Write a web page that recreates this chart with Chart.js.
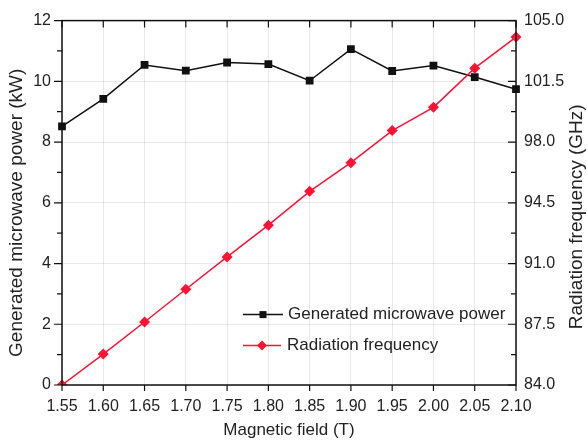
<!DOCTYPE html>
<html>
<head>
<meta charset="utf-8">
<script src="https://cdn.jsdelivr.net/npm/chart.js@4.4.1/dist/chart.umd.min.js"></script>
<style>
  html, body { margin: 0; padding: 0; background: #fff; }
  #wrap { position: relative; width: 587px; height: 442px; }
</style>
</head>
<body>
<div id="wrap"><canvas id="c" width="587" height="442"></canvas></div>
<script>
// ---- data ----
const xLabels = ['1.55','1.60','1.65','1.70','1.75','1.80','1.85','1.90','1.95','2.00','2.05','2.10'];
const powerKW = [8.52, 9.42, 10.54, 10.35, 10.62, 10.57, 10.02, 11.06, 10.34, 10.52, 10.14, 9.74];
const freqGHz = [84.0, 85.78, 87.63, 89.52, 91.38, 93.21, 95.16, 96.81, 98.66, 100.0, 102.26, 104.05];
const leftTicks = [0, 2, 4, 6, 8, 10, 12];
const leftMinor = [1, 3, 5, 7, 9, 11];
const rightTicks = [84.0, 87.5, 91.0, 94.5, 98.0, 101.5, 105.0];
const rightMinor = [85.75, 89.25, 92.75, 96.25, 99.75, 103.25];
const seriesNames = ['Generated microwave power', 'Radiation frequency'];
const leftTitle = 'Generated microwave power (kW)';
const rightTitle = 'Radiation frequency (GHz)';

const BLACK = '#111111';
const RED = '#ff1234';
const TXT = '#222222';
const FONT = '"Liberation Sans", Arial, sans-serif';
Chart.defaults.font.family = FONT;
Chart.defaults.color = TXT;

const framePlugin = {
  id: 'frameTicks',
  afterDatasetsDraw(chart) {
    const { ctx, chartArea: a, scales } = chart;
    const x = scales.x, y = scales.y, y1 = scales.y1;
    ctx.save();
    ctx.strokeStyle = BLACK;
    ctx.lineWidth = 1.2;
    ctx.beginPath();
    x.ticks.forEach((t, i) => {
      const px = x.getPixelForTick(i);
      ctx.moveTo(px, a.bottom); ctx.lineTo(px, a.bottom + 6);
      ctx.moveTo(px, a.top); ctx.lineTo(px, a.top + 7);
    });
    leftTicks.forEach(v => {
      const py = y.getPixelForValue(v);
      ctx.moveTo(a.left, py); ctx.lineTo(a.left - 8, py);
    });
    leftMinor.forEach(v => {
      const py = y.getPixelForValue(v);
      ctx.moveTo(a.left, py); ctx.lineTo(a.left - 5, py);
    });
    rightTicks.forEach(v => {
      const py = y1.getPixelForValue(v);
      ctx.moveTo(a.right, py); ctx.lineTo(a.right - 8, py);
    });
    rightMinor.forEach(v => {
      const py = y1.getPixelForValue(v);
      ctx.moveTo(a.right, py); ctx.lineTo(a.right - 5, py);
    });
    ctx.stroke();
    ctx.lineWidth = 1.5;
    ctx.strokeRect(a.left, a.top, a.right - a.left, a.bottom - a.top);
    ctx.restore();
  },
  afterDraw(chart) {
    const { ctx, chartArea: a } = chart;
    ctx.save();
    const lx = a.left + 181;
    const rows = [a.top + 294, a.top + 325];
    // item 1
    ctx.strokeStyle = BLACK; ctx.lineWidth = 1.5;
    ctx.beginPath(); ctx.moveTo(lx, rows[0]); ctx.lineTo(lx + 40, rows[0]); ctx.stroke();
    ctx.fillStyle = BLACK;
    ctx.fillRect(lx + 20 - 3.5, rows[0] - 3.5, 7, 7);
    // item 2
    ctx.strokeStyle = RED;
    ctx.beginPath(); ctx.moveTo(lx, rows[1]); ctx.lineTo(lx + 38, rows[1]); ctx.stroke();
    ctx.fillStyle = RED;
    ctx.beginPath();
    const cx = lx + 19, cy = rows[1], r = 5;
    ctx.moveTo(cx - r, cy); ctx.lineTo(cx, cy - r); ctx.lineTo(cx + r, cy); ctx.lineTo(cx, cy + r);
    ctx.closePath(); ctx.fill();
    ctx.fillStyle = TXT;
    ctx.font = '17px ' + FONT;
    ctx.textBaseline = 'middle';
    ctx.textAlign = 'left';
    ctx.fillText(seriesNames[0], lx + 45, rows[0]);
    ctx.fillText(seriesNames[1], lx + 44, rows[1]);
    // axis titles, reading bottom-to-top
    ctx.font = '19px ' + FONT;
    ctx.textAlign = 'center';
    ctx.textBaseline = 'middle';
    ctx.save();
    ctx.translate(a.left - 45, (a.top + a.bottom) / 2 + 10);
    ctx.rotate(-Math.PI / 2);
    ctx.fillText(leftTitle, 0, 0);
    ctx.restore();
    ctx.save();
    ctx.translate(a.right + 61, (a.top + a.bottom) / 2 + 14);
    ctx.rotate(-Math.PI / 2);
    ctx.fillText(rightTitle, 0, 0);
    ctx.restore();
    ctx.restore();
  }
};

new Chart(document.getElementById('c'), {
  type: 'line',
  data: {
    labels: xLabels,
    datasets: [
      {
        label: seriesNames[1],
        data: freqGHz,
        yAxisID: 'y1',
        borderColor: RED,
        backgroundColor: RED,
        borderWidth: 1.5,
        pointStyle: 'rectRot',
        pointRadius: 5.5,
        pointBorderWidth: 0,
        tension: 0,
        order: 0
      },
      {
        label: seriesNames[0],
        data: powerKW,
        yAxisID: 'y',
        borderColor: BLACK,
        backgroundColor: BLACK,
        borderWidth: 1.5,
        pointStyle: 'rect',
        pointRadius: 5.5,
        pointBorderWidth: 0,
        tension: 0,
        order: 1
      }
    ]
  },
  options: {
    responsive: false,
    animation: false,
    devicePixelRatio: 1,
    layout: { padding: { top: 15, left: 0, right: 0, bottom: 0 } },
    plugins: { legend: { display: false }, tooltip: { enabled: false } },
    scales: {
      x: {
        type: 'category',
        offset: false,
        afterFit: s => { s.height = 57; },
        grid: { color: 'rgba(0,0,0,0.09)', drawTicks: false, lineWidth: 1 },
        border: { display: false },
        ticks: { font: { size: 16 }, color: TXT, padding: 12, maxRotation: 0, autoSkip: false },
        title: { display: true, text: 'Magnetic field (T)', font: { size: 17, lineHeight: 1 }, color: TXT, padding: { top: 0, bottom: 3.5 } }
      },
      y: {
        type: 'linear',
        position: 'left',
        min: 0, max: 12,
        afterFit: s => { s.width = 62; },
        afterBuildTicks: s => { s.ticks = leftTicks.map(v => ({ value: v })); },
        grid: { color: 'rgba(0,0,0,0.09)', drawTicks: false, lineWidth: 1 },
        border: { display: false },
        ticks: { font: { size: 16 }, color: TXT, padding: 11, callback: v => String(v) },
        title: { display: false }
      },
      y1: {
        type: 'linear',
        position: 'right',
        min: 84, max: 105,
        afterFit: s => { s.width = 71; },
        afterBuildTicks: s => { s.ticks = rightTicks.map(v => ({ value: v })); },
        grid: { display: false, drawTicks: false },
        border: { display: false },
        ticks: { font: { size: 16 }, color: TXT, padding: 8, callback: v => Number(v).toFixed(1) },
        title: { display: false }
      }
    }
  },
  plugins: [framePlugin]
});
</script>
</body>
</html>
